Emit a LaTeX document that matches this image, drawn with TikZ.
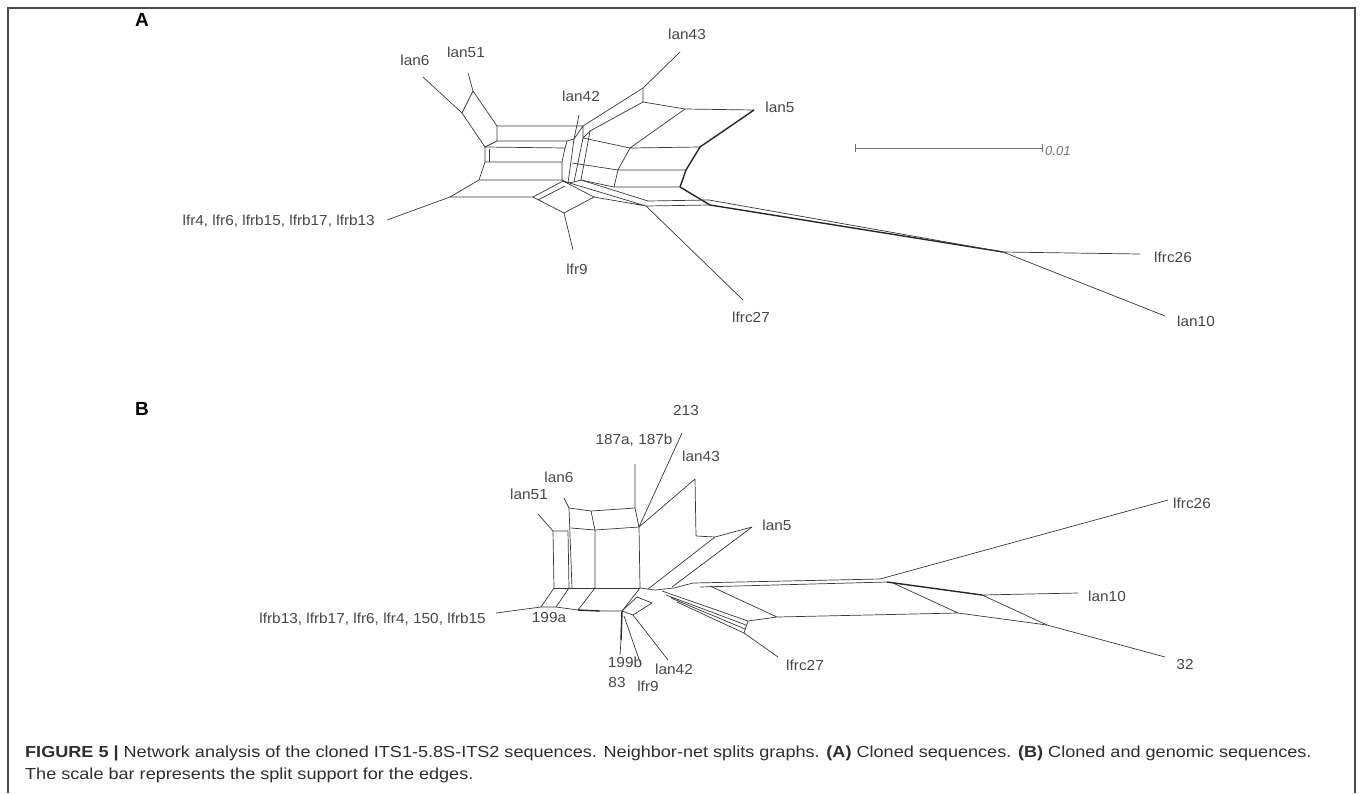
\documentclass[tikz,border=0pt]{standalone}
\usepackage{fontspec}
\setmainfont{Liberation Sans}
\newfontfamily\capfont[FakeStretch=1.13]{Liberation Sans}
\newfontfamily\labfont[FakeStretch=1.06]{Liberation Sans}
\begin{document}
\begin{tikzpicture}[x=1pt,y=-1pt,
  net/.style={draw=black!78,line width=0.7pt,line join=round},
  thk/.style={draw=black!85,line width=1.4pt},
  lab/.style={font=\labfont\fontsize{14.5}{16}\selectfont,text=black!72,inner sep=0pt},
  panel/.style={font=\fontsize{19}{22}\selectfont\bfseries,inner sep=0pt},
  capt/.style={font=\capfont\fontsize{16}{19}\selectfont,text=black!82,inner sep=0pt,anchor=base west}]
\useasboundingbox (0,0) rectangle (1360,793);
\draw[black!70,line width=1.5pt] (8,793) -- (8,8) -- (1355,8) -- (1355,793);

% ---------- panel A ----------
\node[panel] (pA) at (142,20) {A};
\coordinate (a6e) at (423,77);  \coordinate (a6b) at (462,113);
\coordinate (a51e) at (468,73); \coordinate (a51b) at (473,91);
\coordinate (aL1) at (497,126); \coordinate (aR1) at (583,126);
\coordinate (aL2) at (497,141); \coordinate (aR2) at (567,141);
\coordinate (aL3) at (485,147); \coordinate (aR3) at (565,148);
\coordinate (aL4) at (485,162); \coordinate (aR4) at (562,162);
\coordinate (aL5) at (479,180); \coordinate (aR5) at (562,180);
\coordinate (aL6) at (450,197); \coordinate (aR6) at (533,197);
\coordinate (alfr) at (387,220);
\draw[net] (a6e)--(a6b)--(aL3)--(aL4)--(aL5)--(aL6)--(alfr);
\draw[net] (a51e)--(a51b)--(aL1)--(aL2)--(aL3);
\draw[net] (a51b)--(a6b);
\draw[net] (aL1)--(aR1) (aL2)--(aR2) (aL3)--(aR3) (aL4)--(aR4) (aL5)--(aR5) (aL6)--(aR6);
\draw[net] (489,149)--(489,162);
% middle column
\coordinate (m42e) at (579,115); \coordinate (m42b) at (574,139);
\coordinate (mA) at (590,131);   \coordinate (mB) at (583,138);
\coordinate (m2b) at (568,183);  \coordinate (m3b) at (574,182); \coordinate (m4b) at (581,180);
\draw[net] (aR2)--(aR3)--(aR4)--(aR5);
\draw[net] (m42b)--(m2b) (mB)--(m3b) (mA)--(m4b);
\draw[net] (aR2)--(m42b)--(aR1)--(mB)--(mA);
\draw[net] (m42e)--(m42b);
\draw[net] (aR5)--(m2b)--(m3b)--(m4b);
% lower diamond
\coordinate (dT) at (563,181); \coordinate (dR) at (594,197); \coordinate (dB) at (564,213);
\coordinate (a9e) at (573,250);
\draw[net] (aR6)--(dT)--(dR)--(dB)--(aR6);
\draw[net] (538,200)--(565,186);
\draw[net] (dB)--(a9e);
% right part
\coordinate (a43e) at (680,52); \coordinate (a43b) at (643,88); \coordinate (a43c) at (643,102);
\coordinate (a5n) at (685,109); \coordinate (a5e) at (754,110);
\coordinate (aQ1) at (630,148); \coordinate (aQ2) at (700,147);
\coordinate (aQ3) at (618,170); \coordinate (aQ4) at (686,170);
\coordinate (aQ5) at (614,187); \coordinate (aQ6) at (680,187);
\coordinate (aM1) at (572,163);
\coordinate (aJ) at (710,205); \coordinate (aJ2) at (709,200);
\coordinate (aB1) at (646,206); \coordinate (aB2) at (648,201);
\coordinate (aK) at (1003,252);
\coordinate (a27e) at (743,300); \coordinate (a26e) at (1140,254); \coordinate (a10e) at (1165,316);
\draw[net] (a43e)--(a43b)--(a43c);
\draw[net] (a43b)--(aR1) (a43c)--(mA);
\draw[net] (a43c)--(a5n)--(a5e);
\draw[net] (a5n)--(aQ1)--(aQ2);
\draw[thk] (aQ2)--(a5e);
\draw[net] (mB)--(aQ1);
\draw[net] (aQ1)--(aQ3)--(aQ5);
\draw[thk] (aQ2)--(aQ4)--(aQ6);
\draw[net] (aQ3)--(aQ4) (aQ5)--(aQ6) (aM1)--(aQ3) (m4b)--(aQ5);
\draw[thk] (aQ6)--(aJ);
\draw[net] (dT)--(aB1)--(aJ) (m4b)--(aB2)--(aJ2) (dR)--(aB1);
\draw[net] (aB1)--(a27e);
\draw[thk] (aJ)--(aK);
\draw[net] (aJ2)--(aK);
\draw[net] (aK)--(a26e) (aK)--(a10e);
% labels A
\node[lab] (tA6) at (415,60) {lan6};
\node[lab] (tA51) at (466,52) {lan51};
\node[lab] (tA43) at (687,34) {lan43};
\node[lab] (tA42) at (581,96) {lan42};
\node[lab] (tA5) at (780,107) {lan5};
\node[lab,anchor=east] (tAlfr) at (375,221) {lfr4, lfr6, lfrb15, lfrb17, lfrb13};
\node[lab] (tA9) at (577,269) {lfr9};
\node[lab] (tA27) at (751,317) {lfrc27};
\node[lab] (tA26) at (1173,257) {lfrc26};
\node[lab] (tA10) at (1196,321) {lan10};
% scale bar
\coordinate (sb1) at (855,148); \coordinate (sb2) at (1042,148);
\draw[black!55,line width=0.8pt] (sb1)--(sb2);
\draw[black!55,line width=0.8pt] (855,144)--(855,152) (1042,144)--(1042,152);
\node[font=\fontsize{13}{15}\selectfont\itshape,text=black!55,inner sep=0pt,anchor=west] (sbl) at (1045,151) {0.01};

% ---------- panel B ----------
\node[panel] (pB) at (142,409) {B};
\coordinate (b51e) at (538,514); \coordinate (b51b) at (553,531);
\coordinate (b6e) at (564,498);  \coordinate (b6b) at (569,508);
\coordinate (bN1) at (568,531);
\coordinate (bT2) at (635,508);  \coordinate (b187e) at (635,464);
\coordinate (bK) at (639,527);   \coordinate (b213e) at (682,433);
\coordinate (bM1) at (591,511);  \coordinate (bM2) at (595,530);
\coordinate (bR2) at (571,528);
\coordinate (bb1) at (554,588); \coordinate (bb2) at (569,588); \coordinate (bb3) at (572,588);
\coordinate (bb4) at (595,588); \coordinate (bb5) at (640,588);
\draw[net] (b51e)--(b51b)--(bN1);
\draw[net] (b51b)--(bb1) (bN1)--(bb2);
\draw[net] (b6e)--(b6b)--(bb3);
\draw[net] (b6b)--(bM1)--(bT2);
\draw[net] (bM1)--(bM2)--(bb4);
\draw[net] (bR2)--(bM2)--(bK);
\draw[net] (b187e)--(bT2)--(bK)--(bb5);
\draw[net] (b213e)--(bK);
\draw[net] (bb1)--(bb5);
% lower left
\coordinate (bc1) at (541,607); \coordinate (bc2) at (556,607); \coordinate (bc3) at (578,610);
\coordinate (bc4) at (600,611); \coordinate (bc5) at (622,611); \coordinate (blfr) at (496,613);
\draw[net] (bb1)--(bc1) (bb2)--(bc2) (bb4)--(bc3);
\draw[net] (blfr)--(bc1)--(bc2)--(bc3);
\draw[thk] (bc3)--(bc4);
\draw[net] (bc4)--(bc5)--(bb5);
\coordinate (bd1) at (637,597); \coordinate (bd2) at (652,603); \coordinate (bd3) at (633,615);
\draw[net] (bc5)--(bd1)--(bd2)--(bd3)--(bc5);
\coordinate (b83e) at (620,655); \coordinate (bp1) at (624,616); \coordinate (b9e) at (641,665);
\coordinate (b42e) at (668,660);
\draw[thk] (bc5)--(621,640);
\draw[net] (621,640)--(b83e);
\draw[net] (bp1)--(b9e) (bd3)--(b42e);
% right part B
\coordinate (b43e) at (695,479); \coordinate (b43b) at (696,536);
\coordinate (b5a) at (715,537);  \coordinate (b5e) at (752,527);
\coordinate (bl1) at (648,589);  \coordinate (bl2) at (672,587);
\draw[net] (bK)--(b43e)--(b43b)--(b5a)--(b5e);
\draw[net] (b5a)--(bl1) (b5e)--(bl2);
\coordinate (bH1) at (693,583); \coordinate (bH2) at (700,587);
\coordinate (bX1) at (880,579); \coordinate (bX2) at (887,582);
\draw[net] (bb5)--(655,590)--(674,588)--(bH1)--(bX1);
\draw[net] (bH2)--(bX2);
% lfrc27 bundle
\draw[net] (662,591)--(748,621) (666,595)--(746,625) (671,598)--(745,629) (677,602)--(744,633);
\draw[net] (748,621)--(744,633);
\coordinate (b27e) at (778,657); \coordinate (bY) at (777,617);
\coordinate (bZ) at (958,613);  \coordinate (bW) at (1047,625); \coordinate (bV) at (982,595);
\coordinate (b10e) at (1078,593); \coordinate (b32e) at (1165,657); \coordinate (b26e) at (1168,500);
\draw[net] (744,633)--(b27e);
\draw[net] (748,621)--(bY) (710,586)--(bY)--(bZ) (893,583)--(bZ)--(bW);
\draw[thk] (bX2)--(bV);
\draw[net] (bV)--(bW) (bV)--(b10e) (bW)--(b32e) (bX1)--(b26e);
% labels B
\node[lab] (tB213) at (686,411) {213};
\node[lab] (tB187) at (634,440) {187a, 187b};
\node[lab] (tB43) at (701,456) {lan43};
\node[lab] (tB6) at (559,477) {lan6};
\node[lab] (tB51) at (529,494) {lan51};
\node[lab] (tB5) at (777,525) {lan5};
\node[lab] (tB26) at (1192,503) {lfrc26};
\node[lab] (tB10) at (1107,596) {lan10};
\node[lab] (tB32) at (1185,664) {32};
\node[lab] (tB27) at (805,665) {lfrc27};
\node[lab] (tB42) at (674,669) {lan42};
\node[lab] (tB9) at (648,686) {lfr9};
\node[lab] (tB83) at (617,682) {83};
\node[lab] (tB199b) at (625,662) {199b};
\node[lab] (tB199a) at (549,617) {199a};
\node[lab,anchor=east] (tBlfr) at (486,619) {lfrb13, lfrb17, lfr6, lfr4, 150, lfrb15};

% ---------- caption ----------
\node[capt] (cap1) at (25,757) {\textbf{FIGURE 5 |} Network analysis of the cloned ITS1-5.8S-ITS2 sequences. Neighbor-net splits graphs. \textbf{(A)} Cloned sequences. \textbf{(B)} Cloned and genomic sequences.};
\node[capt] (cap2) at (25,779) {The scale bar represents the split support for the edges.};
\end{tikzpicture}
\end{document}
